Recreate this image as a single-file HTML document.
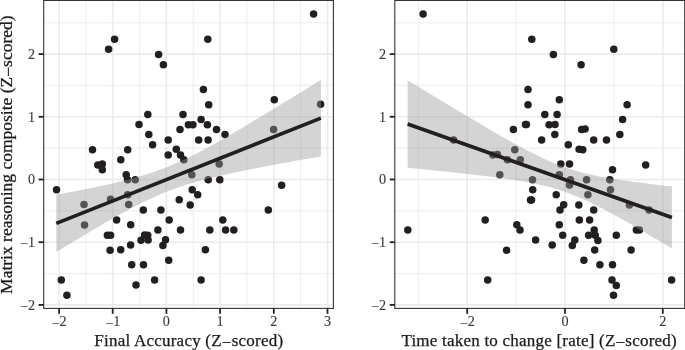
<!DOCTYPE html>
<html><head><meta charset="utf-8"><title>Figure</title>
<style>
html,body{margin:0;padding:0;background:#fff;}
body{width:685px;height:350px;overflow:hidden;}
svg{display:block;}
text{font-family:"Liberation Serif",serif;}
.tick{font-size:14.2px;fill:#3a3a3a;stroke:#3a3a3a;stroke-width:0.12px;}
.title{font-size:17.4px;fill:#1a1a1a;stroke:#1a1a1a;stroke-width:0.25px;}
</style></head><body>
<svg width="685" height="350" viewBox="0 0 685 350">
<rect width="685" height="350" fill="#fff"/>

<clipPath id="c1"><rect x="43.7" y="0.45" width="289.7" height="307.95"/></clipPath>
<g clip-path="url(#c1)">
<line x1="85.9" x2="85.9" y1="0.45" y2="308.4" stroke="#ebebeb" stroke-width="0.9"/>
<line x1="139.6" x2="139.6" y1="0.45" y2="308.4" stroke="#ebebeb" stroke-width="0.9"/>
<line x1="193.3" x2="193.3" y1="0.45" y2="308.4" stroke="#ebebeb" stroke-width="0.9"/>
<line x1="246.9" x2="246.9" y1="0.45" y2="308.4" stroke="#ebebeb" stroke-width="0.9"/>
<line x1="300.6" x2="300.6" y1="0.45" y2="308.4" stroke="#ebebeb" stroke-width="0.9"/>
<line y1="273.6" y2="273.6" x1="43.7" x2="333.4" stroke="#ebebeb" stroke-width="0.9"/>
<line y1="210.8" y2="210.8" x1="43.7" x2="333.4" stroke="#ebebeb" stroke-width="0.9"/>
<line y1="148.2" y2="148.2" x1="43.7" x2="333.4" stroke="#ebebeb" stroke-width="0.9"/>
<line y1="85.4" y2="85.4" x1="43.7" x2="333.4" stroke="#ebebeb" stroke-width="0.9"/>
<line y1="22.8" y2="22.8" x1="43.7" x2="333.4" stroke="#ebebeb" stroke-width="0.9"/>
<line x1="59.1" x2="59.1" y1="0.45" y2="308.4" stroke="#ebebeb" stroke-width="1.6"/>
<line x1="112.7" x2="112.7" y1="0.45" y2="308.4" stroke="#ebebeb" stroke-width="1.6"/>
<line x1="166.4" x2="166.4" y1="0.45" y2="308.4" stroke="#ebebeb" stroke-width="1.6"/>
<line x1="220.1" x2="220.1" y1="0.45" y2="308.4" stroke="#ebebeb" stroke-width="1.6"/>
<line x1="273.8" x2="273.8" y1="0.45" y2="308.4" stroke="#ebebeb" stroke-width="1.6"/>
<line x1="327.5" x2="327.5" y1="0.45" y2="308.4" stroke="#ebebeb" stroke-width="1.6"/>
<line y1="304.9" y2="304.9" x1="43.7" x2="333.4" stroke="#ebebeb" stroke-width="1.6"/>
<line y1="242.2" y2="242.2" x1="43.7" x2="333.4" stroke="#ebebeb" stroke-width="1.6"/>
<line y1="179.5" y2="179.5" x1="43.7" x2="333.4" stroke="#ebebeb" stroke-width="1.6"/>
<line y1="116.8" y2="116.8" x1="43.7" x2="333.4" stroke="#ebebeb" stroke-width="1.6"/>
<line y1="54.1" y2="54.1" x1="43.7" x2="333.4" stroke="#ebebeb" stroke-width="1.6"/>
<g fill="#231f20">
<circle cx="114.6" cy="39.3" r="3.75"/>
<circle cx="108.6" cy="49.3" r="3.75"/>
<circle cx="158.6" cy="54.4" r="3.75"/>
<circle cx="163.4" cy="64.7" r="3.75"/>
<circle cx="207.8" cy="39.3" r="3.75"/>
<circle cx="313.6" cy="14.1" r="3.75"/>
<circle cx="203.4" cy="89.6" r="3.75"/>
<circle cx="208.7" cy="104.7" r="3.75"/>
<circle cx="147.8" cy="114.5" r="3.75"/>
<circle cx="183.0" cy="114.5" r="3.75"/>
<circle cx="201.1" cy="119.6" r="3.75"/>
<circle cx="139.0" cy="124.6" r="3.75"/>
<circle cx="188.4" cy="124.7" r="3.75"/>
<circle cx="192.9" cy="124.7" r="3.75"/>
<circle cx="207.4" cy="124.8" r="3.75"/>
<circle cx="180.0" cy="129.4" r="3.75"/>
<circle cx="148.8" cy="134.6" r="3.75"/>
<circle cx="168.2" cy="139.9" r="3.75"/>
<circle cx="198.7" cy="139.9" r="3.75"/>
<circle cx="208.1" cy="139.9" r="3.75"/>
<circle cx="152.6" cy="144.7" r="3.75"/>
<circle cx="92.5" cy="149.7" r="3.75"/>
<circle cx="127.7" cy="149.7" r="3.75"/>
<circle cx="176.3" cy="149.2" r="3.75"/>
<circle cx="168.2" cy="154.9" r="3.75"/>
<circle cx="180.5" cy="154.9" r="3.75"/>
<circle cx="120.8" cy="159.7" r="3.75"/>
<circle cx="183.8" cy="159.8" r="3.75"/>
<circle cx="274.3" cy="99.7" r="3.75"/>
<circle cx="320.6" cy="104.2" r="3.75"/>
<circle cx="216.5" cy="129.6" r="3.75"/>
<circle cx="225.0" cy="134.6" r="3.75"/>
<circle cx="273.6" cy="129.6" r="3.75"/>
<circle cx="97.8" cy="164.9" r="3.75"/>
<circle cx="102.3" cy="164.1" r="3.75"/>
<circle cx="102.3" cy="169.7" r="3.75"/>
<circle cx="126.2" cy="174.7" r="3.75"/>
<circle cx="127.5" cy="179.7" r="3.75"/>
<circle cx="135.2" cy="179.7" r="3.75"/>
<circle cx="191.8" cy="174.7" r="3.75"/>
<circle cx="208.2" cy="179.7" r="3.75"/>
<circle cx="56.5" cy="189.8" r="3.75"/>
<circle cx="192.2" cy="189.8" r="3.75"/>
<circle cx="197.7" cy="194.8" r="3.75"/>
<circle cx="127.7" cy="194.8" r="3.75"/>
<circle cx="110.6" cy="199.3" r="3.75"/>
<circle cx="179.2" cy="199.8" r="3.75"/>
<circle cx="84.0" cy="204.4" r="3.75"/>
<circle cx="128.7" cy="204.4" r="3.75"/>
<circle cx="190.2" cy="204.9" r="3.75"/>
<circle cx="143.3" cy="209.9" r="3.75"/>
<circle cx="160.9" cy="209.9" r="3.75"/>
<circle cx="116.6" cy="219.9" r="3.75"/>
<circle cx="169.2" cy="219.9" r="3.75"/>
<circle cx="84.5" cy="224.9" r="3.75"/>
<circle cx="130.7" cy="224.7" r="3.75"/>
<circle cx="157.9" cy="229.9" r="3.75"/>
<circle cx="180.5" cy="229.9" r="3.75"/>
<circle cx="209.8" cy="229.9" r="3.75"/>
<circle cx="107.4" cy="235.3" r="3.75"/>
<circle cx="110.6" cy="235.3" r="3.75"/>
<circle cx="144.6" cy="235.0" r="3.75"/>
<circle cx="147.7" cy="235.2" r="3.75"/>
<circle cx="141.0" cy="240.2" r="3.75"/>
<circle cx="148.1" cy="240.0" r="3.75"/>
<circle cx="165.5" cy="239.8" r="3.75"/>
<circle cx="130.6" cy="244.9" r="3.75"/>
<circle cx="162.9" cy="245.4" r="3.75"/>
<circle cx="110.1" cy="250.2" r="3.75"/>
<circle cx="120.7" cy="249.7" r="3.75"/>
<circle cx="205.4" cy="249.7" r="3.75"/>
<circle cx="168.7" cy="260.3" r="3.75"/>
<circle cx="131.7" cy="264.8" r="3.75"/>
<circle cx="143.5" cy="264.8" r="3.75"/>
<circle cx="61.3" cy="279.9" r="3.75"/>
<circle cx="154.6" cy="279.9" r="3.75"/>
<circle cx="201.1" cy="279.9" r="3.75"/>
<circle cx="136.0" cy="285.1" r="3.75"/>
<circle cx="66.9" cy="295.2" r="3.75"/>
<circle cx="219.2" cy="164.1" r="3.75"/>
<circle cx="219.8" cy="179.7" r="3.75"/>
<circle cx="281.6" cy="185.3" r="3.75"/>
<circle cx="268.3" cy="209.9" r="3.75"/>
<circle cx="222.8" cy="219.9" r="3.75"/>
<circle cx="225.6" cy="229.9" r="3.75"/>
<circle cx="233.8" cy="229.9" r="3.75"/>
</g>
<path d="M56.3,194.8 L60.7,194.0 L65.1,193.1 L69.5,192.3 L73.9,191.4 L78.3,190.6 L82.8,189.7 L87.2,188.8 L91.6,187.9 L96.0,187.0 L100.4,186.1 L104.8,185.1 L109.2,184.2 L113.6,183.2 L118.0,182.1 L122.4,181.1 L126.9,179.9 L131.3,178.8 L135.7,177.6 L140.1,176.3 L144.5,175.0 L148.9,173.6 L153.3,172.2 L157.7,170.6 L162.1,169.0 L166.5,167.3 L171.0,165.5 L175.4,163.6 L179.8,161.6 L184.2,159.6 L188.6,157.4 L193.0,155.2 L197.4,153.0 L201.8,150.7 L206.2,148.3 L210.6,145.9 L215.1,143.5 L219.5,141.0 L223.9,138.5 L228.3,135.9 L232.7,133.4 L237.1,130.8 L241.5,128.2 L245.9,125.6 L250.3,123.0 L254.7,120.3 L259.2,117.7 L263.6,115.0 L268.0,112.3 L272.4,109.7 L276.8,107.0 L281.2,104.3 L285.6,101.6 L290.0,98.9 L294.4,96.2 L298.8,93.4 L303.3,90.7 L307.7,88.0 L312.1,85.3 L316.5,82.5 L320.9,79.8 L320.9,156.4 L316.5,157.2 L312.1,158.0 L307.7,158.7 L303.3,159.5 L298.8,160.3 L294.4,161.1 L290.0,161.9 L285.6,162.7 L281.2,163.5 L276.8,164.3 L272.4,165.1 L268.0,166.0 L263.6,166.8 L259.2,167.7 L254.7,168.5 L250.3,169.4 L245.9,170.3 L241.5,171.2 L237.1,172.1 L232.7,173.0 L228.3,174.0 L223.9,174.9 L219.5,175.9 L215.1,177.0 L210.6,178.0 L206.2,179.1 L201.8,180.3 L197.4,181.5 L193.0,182.7 L188.6,184.1 L184.2,185.4 L179.8,186.9 L175.4,188.4 L171.0,190.1 L166.5,191.8 L162.1,193.6 L157.7,195.5 L153.3,197.4 L148.9,199.5 L144.5,201.6 L140.1,203.8 L135.7,206.0 L131.3,208.3 L126.9,210.7 L122.4,213.1 L118.0,215.5 L113.6,218.0 L109.2,220.5 L104.8,223.1 L100.4,225.6 L96.0,228.2 L91.6,230.8 L87.2,233.4 L82.8,236.0 L78.3,238.7 L73.9,241.3 L69.5,244.0 L65.1,246.7 L60.7,249.3 L56.3,252.0Z" fill="#999999" fill-opacity="0.42"/>
<line x1="56.3" y1="223.4" x2="320.9" y2="118.1" stroke="#231f20" stroke-width="3.7"/>
</g>
<rect x="43.7" y="0.45" width="289.7" height="307.95" fill="none" stroke="#333333" stroke-width="1.1"/>
<line x1="59.1" x2="59.1" y1="308.4" y2="313.79999999999995" stroke="#222222" stroke-width="1.8"/>
<text class="tick" x="59.1" y="326.29999999999995" text-anchor="middle"><tspan dy="1.2">−</tspan><tspan dy="-1.2">2</tspan></text>
<line x1="112.7" x2="112.7" y1="308.4" y2="313.79999999999995" stroke="#222222" stroke-width="1.8"/>
<text class="tick" x="112.7" y="326.29999999999995" text-anchor="middle"><tspan dy="1.2">−</tspan><tspan dy="-1.2">1</tspan></text>
<line x1="166.4" x2="166.4" y1="308.4" y2="313.79999999999995" stroke="#222222" stroke-width="1.8"/>
<text class="tick" x="166.4" y="326.29999999999995" text-anchor="middle">0</text>
<line x1="220.1" x2="220.1" y1="308.4" y2="313.79999999999995" stroke="#222222" stroke-width="1.8"/>
<text class="tick" x="220.1" y="326.29999999999995" text-anchor="middle">1</text>
<line x1="273.8" x2="273.8" y1="308.4" y2="313.79999999999995" stroke="#222222" stroke-width="1.8"/>
<text class="tick" x="273.8" y="326.29999999999995" text-anchor="middle">2</text>
<line x1="327.5" x2="327.5" y1="308.4" y2="313.79999999999995" stroke="#222222" stroke-width="1.8"/>
<text class="tick" x="327.5" y="326.29999999999995" text-anchor="middle">3</text>
<line y1="304.9" y2="304.9" x1="38.6" x2="43.7" stroke="#222222" stroke-width="1.8"/>
<text class="tick" x="35.1" y="309.6" text-anchor="end"><tspan dy="1.2">−</tspan><tspan dy="-1.2">2</tspan></text>
<line y1="242.2" y2="242.2" x1="38.6" x2="43.7" stroke="#222222" stroke-width="1.8"/>
<text class="tick" x="35.1" y="246.9" text-anchor="end"><tspan dy="1.2">−</tspan><tspan dy="-1.2">1</tspan></text>
<line y1="179.5" y2="179.5" x1="38.6" x2="43.7" stroke="#222222" stroke-width="1.8"/>
<text class="tick" x="35.1" y="184.2" text-anchor="end">0</text>
<line y1="116.8" y2="116.8" x1="38.6" x2="43.7" stroke="#222222" stroke-width="1.8"/>
<text class="tick" x="35.1" y="121.5" text-anchor="end">1</text>
<line y1="54.1" y2="54.1" x1="38.6" x2="43.7" stroke="#222222" stroke-width="1.8"/>
<text class="tick" x="35.1" y="58.8" text-anchor="end">2</text>
<clipPath id="c2"><rect x="394.8" y="0.45" width="289.90000000000003" height="307.95"/></clipPath>
<g clip-path="url(#c2)">
<line x1="418.4" x2="418.4" y1="0.45" y2="308.4" stroke="#ebebeb" stroke-width="0.9"/>
<line x1="516.1" x2="516.1" y1="0.45" y2="308.4" stroke="#ebebeb" stroke-width="0.9"/>
<line x1="613.9" x2="613.9" y1="0.45" y2="308.4" stroke="#ebebeb" stroke-width="0.9"/>
<line y1="273.6" y2="273.6" x1="394.8" x2="684.7" stroke="#ebebeb" stroke-width="0.9"/>
<line y1="210.8" y2="210.8" x1="394.8" x2="684.7" stroke="#ebebeb" stroke-width="0.9"/>
<line y1="148.2" y2="148.2" x1="394.8" x2="684.7" stroke="#ebebeb" stroke-width="0.9"/>
<line y1="85.4" y2="85.4" x1="394.8" x2="684.7" stroke="#ebebeb" stroke-width="0.9"/>
<line y1="22.8" y2="22.8" x1="394.8" x2="684.7" stroke="#ebebeb" stroke-width="0.9"/>
<line x1="467.2" x2="467.2" y1="0.45" y2="308.4" stroke="#ebebeb" stroke-width="1.6"/>
<line x1="565.0" x2="565.0" y1="0.45" y2="308.4" stroke="#ebebeb" stroke-width="1.6"/>
<line x1="662.8" x2="662.8" y1="0.45" y2="308.4" stroke="#ebebeb" stroke-width="1.6"/>
<line y1="304.9" y2="304.9" x1="394.8" x2="684.7" stroke="#ebebeb" stroke-width="1.6"/>
<line y1="242.2" y2="242.2" x1="394.8" x2="684.7" stroke="#ebebeb" stroke-width="1.6"/>
<line y1="179.5" y2="179.5" x1="394.8" x2="684.7" stroke="#ebebeb" stroke-width="1.6"/>
<line y1="116.8" y2="116.8" x1="394.8" x2="684.7" stroke="#ebebeb" stroke-width="1.6"/>
<line y1="54.1" y2="54.1" x1="394.8" x2="684.7" stroke="#ebebeb" stroke-width="1.6"/>
<g fill="#231f20">
<circle cx="423.1" cy="14.1" r="3.75"/>
<circle cx="531.8" cy="39.3" r="3.75"/>
<circle cx="553.4" cy="54.4" r="3.75"/>
<circle cx="581.1" cy="64.7" r="3.75"/>
<circle cx="613.8" cy="49.3" r="3.75"/>
<circle cx="528.0" cy="89.6" r="3.75"/>
<circle cx="559.3" cy="99.7" r="3.75"/>
<circle cx="528.0" cy="104.7" r="3.75"/>
<circle cx="544.8" cy="114.5" r="3.75"/>
<circle cx="557.1" cy="114.5" r="3.75"/>
<circle cx="525.5" cy="124.6" r="3.75"/>
<circle cx="526.4" cy="124.6" r="3.75"/>
<circle cx="549.1" cy="124.8" r="3.75"/>
<circle cx="555.0" cy="124.6" r="3.75"/>
<circle cx="513.4" cy="129.6" r="3.75"/>
<circle cx="554.8" cy="134.6" r="3.75"/>
<circle cx="541.6" cy="139.9" r="3.75"/>
<circle cx="453.6" cy="139.9" r="3.75"/>
<circle cx="514.8" cy="149.7" r="3.75"/>
<circle cx="492.9" cy="155.0" r="3.75"/>
<circle cx="497.4" cy="154.6" r="3.75"/>
<circle cx="507.4" cy="159.7" r="3.75"/>
<circle cx="520.3" cy="159.7" r="3.75"/>
<circle cx="560.8" cy="164.1" r="3.75"/>
<circle cx="627.1" cy="104.7" r="3.75"/>
<circle cx="622.6" cy="119.6" r="3.75"/>
<circle cx="581.6" cy="129.6" r="3.75"/>
<circle cx="585.1" cy="129.1" r="3.75"/>
<circle cx="619.8" cy="134.6" r="3.75"/>
<circle cx="593.7" cy="139.9" r="3.75"/>
<circle cx="606.5" cy="139.9" r="3.75"/>
<circle cx="568.3" cy="144.7" r="3.75"/>
<circle cx="579.1" cy="149.2" r="3.75"/>
<circle cx="582.8" cy="149.7" r="3.75"/>
<circle cx="569.5" cy="164.1" r="3.75"/>
<circle cx="645.7" cy="164.9" r="3.75"/>
<circle cx="612.5" cy="169.7" r="3.75"/>
<circle cx="499.8" cy="174.7" r="3.75"/>
<circle cx="559.3" cy="174.7" r="3.75"/>
<circle cx="532.5" cy="179.7" r="3.75"/>
<circle cx="570.5" cy="179.7" r="3.75"/>
<circle cx="586.6" cy="179.7" r="3.75"/>
<circle cx="609.8" cy="179.7" r="3.75"/>
<circle cx="569.5" cy="185.0" r="3.75"/>
<circle cx="532.7" cy="189.8" r="3.75"/>
<circle cx="610.5" cy="189.8" r="3.75"/>
<circle cx="556.2" cy="194.8" r="3.75"/>
<circle cx="587.9" cy="194.8" r="3.75"/>
<circle cx="530.5" cy="200.1" r="3.75"/>
<circle cx="531.5" cy="200.0" r="3.75"/>
<circle cx="563.7" cy="204.7" r="3.75"/>
<circle cx="578.8" cy="204.9" r="3.75"/>
<circle cx="629.4" cy="204.9" r="3.75"/>
<circle cx="560.0" cy="209.9" r="3.75"/>
<circle cx="593.7" cy="209.9" r="3.75"/>
<circle cx="649.0" cy="209.9" r="3.75"/>
<circle cx="485.2" cy="219.9" r="3.75"/>
<circle cx="579.3" cy="219.9" r="3.75"/>
<circle cx="589.6" cy="219.9" r="3.75"/>
<circle cx="516.8" cy="224.7" r="3.75"/>
<circle cx="559.3" cy="224.7" r="3.75"/>
<circle cx="520.0" cy="229.9" r="3.75"/>
<circle cx="407.8" cy="229.9" r="3.75"/>
<circle cx="594.2" cy="229.9" r="3.75"/>
<circle cx="636.4" cy="229.9" r="3.75"/>
<circle cx="639.4" cy="229.9" r="3.75"/>
<circle cx="562.7" cy="235.2" r="3.75"/>
<circle cx="588.6" cy="235.2" r="3.75"/>
<circle cx="595.2" cy="235.2" r="3.75"/>
<circle cx="616.3" cy="235.2" r="3.75"/>
<circle cx="535.6" cy="239.9" r="3.75"/>
<circle cx="574.8" cy="239.9" r="3.75"/>
<circle cx="597.9" cy="240.4" r="3.75"/>
<circle cx="552.2" cy="244.9" r="3.75"/>
<circle cx="572.3" cy="245.4" r="3.75"/>
<circle cx="506.6" cy="250.2" r="3.75"/>
<circle cx="594.7" cy="249.9" r="3.75"/>
<circle cx="631.1" cy="249.9" r="3.75"/>
<circle cx="583.9" cy="260.3" r="3.75"/>
<circle cx="599.9" cy="264.8" r="3.75"/>
<circle cx="612.5" cy="264.8" r="3.75"/>
<circle cx="487.7" cy="279.9" r="3.75"/>
<circle cx="612.0" cy="279.9" r="3.75"/>
<circle cx="671.6" cy="279.9" r="3.75"/>
<circle cx="616.3" cy="285.4" r="3.75"/>
<circle cx="613.5" cy="295.2" r="3.75"/>
</g>
<path d="M407.6,80.2 L412.0,82.9 L416.4,85.6 L420.8,88.2 L425.2,90.9 L429.6,93.6 L434.0,96.3 L438.4,98.9 L442.8,101.6 L447.2,104.2 L451.7,106.9 L456.1,109.5 L460.5,112.2 L464.9,114.8 L469.3,117.4 L473.7,120.0 L478.1,122.6 L482.5,125.2 L486.9,127.8 L491.3,130.4 L495.7,132.9 L500.1,135.5 L504.5,138.0 L508.9,140.4 L513.3,142.9 L517.7,145.3 L522.1,147.7 L526.5,150.0 L530.9,152.3 L535.3,154.6 L539.8,156.7 L544.2,158.8 L548.6,160.8 L553.0,162.7 L557.4,164.5 L561.8,166.2 L566.2,167.8 L570.6,169.3 L575.0,170.6 L579.4,171.9 L583.8,173.0 L588.2,174.1 L592.6,175.1 L597.0,176.0 L601.4,176.9 L605.8,177.7 L610.2,178.4 L614.6,179.1 L619.0,179.8 L623.4,180.4 L627.9,181.1 L632.3,181.7 L636.7,182.2 L641.1,182.8 L645.5,183.3 L649.9,183.9 L654.3,184.4 L658.7,184.9 L663.1,185.4 L667.5,185.9 L671.9,186.3 L671.9,248.5 L667.5,245.8 L663.1,243.2 L658.7,240.6 L654.3,238.0 L649.9,235.4 L645.5,232.8 L641.1,230.2 L636.7,227.7 L632.3,225.1 L627.9,222.6 L623.4,220.1 L619.0,217.6 L614.6,215.2 L610.2,212.8 L605.8,210.4 L601.4,208.1 L597.0,205.9 L592.6,203.7 L588.2,201.5 L583.8,199.5 L579.4,197.5 L575.0,195.7 L570.6,193.9 L566.2,192.3 L561.8,190.8 L557.4,189.3 L553.0,188.0 L548.6,186.8 L544.2,185.7 L539.8,184.7 L535.3,183.7 L530.9,182.8 L526.5,182.0 L522.1,181.2 L517.7,180.5 L513.3,179.8 L508.9,179.2 L504.5,178.5 L500.1,177.9 L495.7,177.3 L491.3,176.8 L486.9,176.2 L482.5,175.7 L478.1,175.2 L473.7,174.7 L469.3,174.2 L464.9,173.7 L460.5,173.2 L456.1,172.7 L451.7,172.2 L447.2,171.8 L442.8,171.3 L438.4,170.9 L434.0,170.4 L429.6,170.0 L425.2,169.5 L420.8,169.1 L416.4,168.7 L412.0,168.2 L407.6,167.8Z" fill="#999999" fill-opacity="0.42"/>
<line x1="407.6" y1="124.0" x2="671.9" y2="217.4" stroke="#231f20" stroke-width="3.7"/>
</g>
<rect x="394.8" y="0.45" width="289.90000000000003" height="307.95" fill="none" stroke="#333333" stroke-width="1.1"/>
<line x1="467.2" x2="467.2" y1="308.4" y2="313.79999999999995" stroke="#222222" stroke-width="1.8"/>
<text class="tick" x="467.2" y="326.29999999999995" text-anchor="middle"><tspan dy="1.2">−</tspan><tspan dy="-1.2">2</tspan></text>
<line x1="565.0" x2="565.0" y1="308.4" y2="313.79999999999995" stroke="#222222" stroke-width="1.8"/>
<text class="tick" x="565.0" y="326.29999999999995" text-anchor="middle">0</text>
<line x1="662.8" x2="662.8" y1="308.4" y2="313.79999999999995" stroke="#222222" stroke-width="1.8"/>
<text class="tick" x="662.8" y="326.29999999999995" text-anchor="middle">2</text>
<line y1="304.9" y2="304.9" x1="389.7" x2="394.8" stroke="#222222" stroke-width="1.8"/>
<text class="tick" x="386.2" y="309.6" text-anchor="end"><tspan dy="1.2">−</tspan><tspan dy="-1.2">2</tspan></text>
<line y1="242.2" y2="242.2" x1="389.7" x2="394.8" stroke="#222222" stroke-width="1.8"/>
<text class="tick" x="386.2" y="246.9" text-anchor="end"><tspan dy="1.2">−</tspan><tspan dy="-1.2">1</tspan></text>
<line y1="179.5" y2="179.5" x1="389.7" x2="394.8" stroke="#222222" stroke-width="1.8"/>
<text class="tick" x="386.2" y="184.2" text-anchor="end">0</text>
<line y1="116.8" y2="116.8" x1="389.7" x2="394.8" stroke="#222222" stroke-width="1.8"/>
<text class="tick" x="386.2" y="121.5" text-anchor="end">1</text>
<line y1="54.1" y2="54.1" x1="389.7" x2="394.8" stroke="#222222" stroke-width="1.8"/>
<text class="tick" x="386.2" y="58.8" text-anchor="end">2</text>
<text class="title" x="94.3" y="345.7" style="font-size:17px" textLength="188.8" lengthAdjust="spacing">Final Accuracy (Z<tspan dy="1.9">−</tspan><tspan dy="-1.9">scored)</tspan></text>
<text class="title" x="401.4" y="345.7" style="font-size:17px" textLength="275.3" lengthAdjust="spacing">Time taken to change [rate] (Z<tspan dy="1.9">−</tspan><tspan dy="-1.9">scored)</tspan></text>
<text class="title" transform="translate(12.2,293.9) rotate(-90)" style="font-size:17.5px" textLength="278.5" lengthAdjust="spacing">Matrix reasoning composite (Z<tspan dy="1.9">−</tspan><tspan dy="-1.9">scored)</tspan></text>
</svg></body></html>
